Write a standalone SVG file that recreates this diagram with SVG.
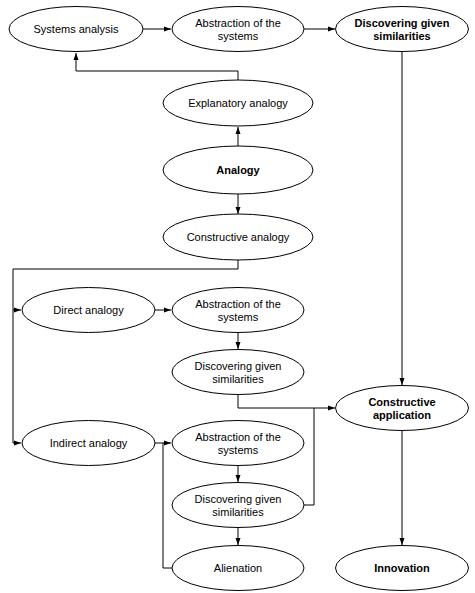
<svg xmlns="http://www.w3.org/2000/svg" width="475" height="593" viewBox="0 0 475 593">
<style>
ellipse{fill:#fff;stroke:#000;stroke-width:1}
text{font-family:"Liberation Sans",Arial,sans-serif;font-size:11px;text-anchor:middle;dominant-baseline:central;fill:#000}
.b{font-weight:bold}
.c{fill:none;stroke:#000;stroke-width:1}
</style>
<defs>
<marker id="a" markerWidth="7" markerHeight="6" refX="7" refY="3" orient="auto" markerUnits="userSpaceOnUse">
<path d="M0,0.5 L7,3 L0,5.5 Z" fill="#000"/>
</marker>
</defs>
<g id="connectors">
<path class="c" d="M143,29 H171" marker-end="url(#a)"/>
<path class="c" d="M304,29 H335" marker-end="url(#a)"/>
<path class="c" d="M238,80 V71 H76 V53" marker-end="url(#a)"/>
<path class="c" d="M238,146 V127" marker-end="url(#a)"/>
<path class="c" d="M238,194 V214" marker-end="url(#a)"/>
<path class="c" d="M238,260 V269 H13 V443 H21" marker-end="url(#a)"/>
<path class="c" d="M13,310 H21" marker-end="url(#a)"/>
<path class="c" d="M155,310 H171" marker-end="url(#a)"/>
<path class="c" d="M238,332 V349" marker-end="url(#a)"/>
<path class="c" d="M238,394 V408 H335" marker-end="url(#a)"/>
<path class="c" d="M304,505 H314 V408"/>
<path class="c" d="M402,52 V385" marker-end="url(#a)"/>
<path class="c" d="M402,430 V545" marker-end="url(#a)"/>
<path class="c" d="M155,443 H171" marker-end="url(#a)"/>
<path class="c" d="M163,443 V568 H172"/>
<path class="c" d="M238,465 V482" marker-end="url(#a)"/>
<path class="c" d="M238,527 V545" marker-end="url(#a)"/>
</g>
<g id="systems-analysis"><ellipse cx="76" cy="29" rx="67" ry="22.5"/><text x="76" y="29">Systems analysis</text></g>
<g id="abstraction-top"><ellipse cx="238" cy="29" rx="66" ry="22.5"/><text x="238" y="22.5">Abstraction of the</text><text x="238" y="35.5">systems</text></g>
<g id="discovering-top"><ellipse cx="402" cy="29" rx="66.5" ry="22.5"/><text class="b" x="402" y="22.5">Discovering given</text><text class="b" x="402" y="35.5">similarities</text></g>
<g id="explanatory-analogy"><ellipse cx="238" cy="103" rx="75" ry="23"/><text x="238" y="103">Explanatory analogy</text></g>
<g id="analogy"><ellipse cx="238" cy="170" rx="75" ry="24"/><text class="b" x="238" y="170">Analogy</text></g>
<g id="constructive-analogy"><ellipse cx="238" cy="237" rx="75" ry="23"/><text x="238" y="237">Constructive analogy</text></g>
<g id="direct-analogy"><ellipse cx="88.5" cy="310" rx="66.5" ry="22.5"/><text x="88.5" y="310">Direct analogy</text></g>
<g id="abstraction-direct"><ellipse cx="238" cy="310" rx="66" ry="22.5"/><text x="238" y="303.5">Abstraction of the</text><text x="238" y="316.5">systems</text></g>
<g id="discovering-direct"><ellipse cx="238" cy="372" rx="66" ry="22.5"/><text x="238" y="365.5">Discovering given</text><text x="238" y="378.5">similarities</text></g>
<g id="constructive-application"><ellipse cx="402" cy="408" rx="66.5" ry="22.5"/><text class="b" x="402" y="401.5">Constructive</text><text class="b" x="402" y="414.5">application</text></g>
<g id="indirect-analogy"><ellipse cx="88.5" cy="443" rx="66.5" ry="22.5"/><text x="88.5" y="443">Indirect analogy</text></g>
<g id="abstraction-indirect"><ellipse cx="238" cy="443" rx="66" ry="22.5"/><text x="238" y="436.5">Abstraction of the</text><text x="238" y="449.5">systems</text></g>
<g id="discovering-indirect"><ellipse cx="238" cy="505" rx="66" ry="22.5"/><text x="238" y="498.5">Discovering given</text><text x="238" y="511.5">similarities</text></g>
<g id="alienation"><ellipse cx="238" cy="568" rx="66" ry="22.5"/><text x="238" y="568">Alienation</text></g>
<g id="innovation"><ellipse cx="402" cy="568" rx="66.5" ry="22.5"/><text class="b" x="402" y="568">Innovation</text></g>
</svg>
